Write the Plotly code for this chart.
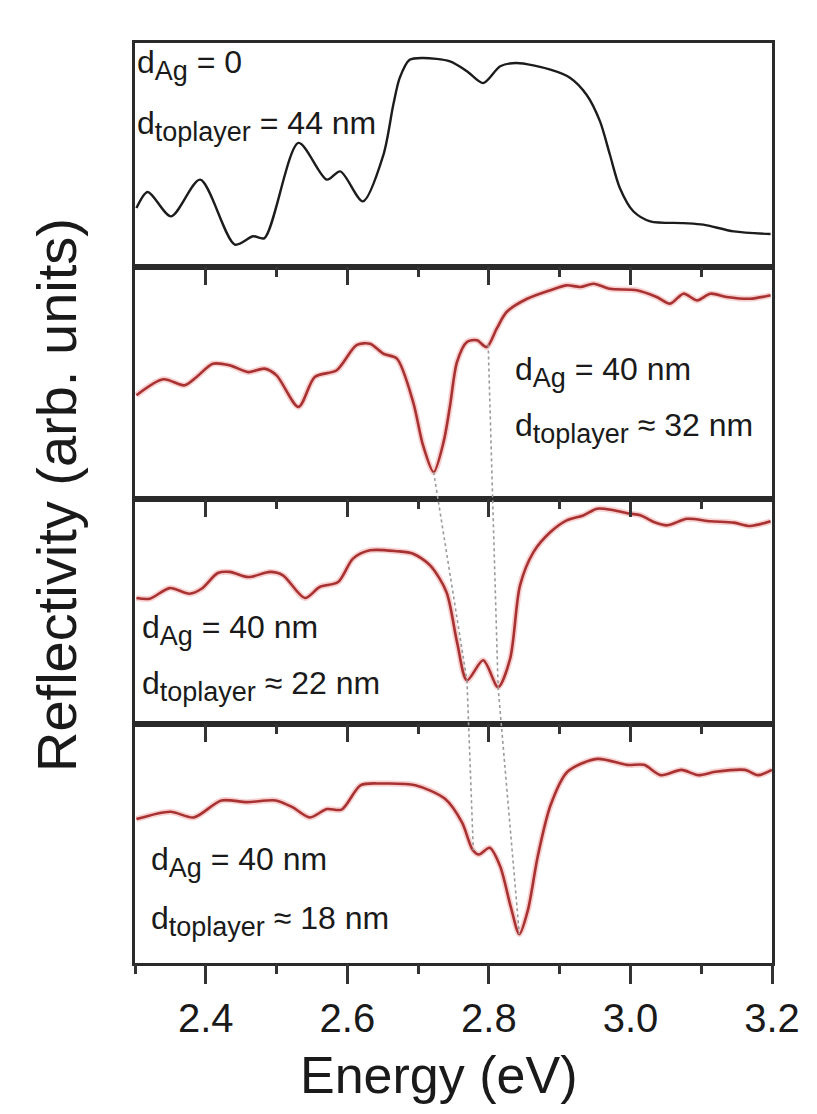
import numpy as np
import plotly.graph_objects as go
from plotly.subplots import make_subplots

# ---------------- data ----------------
# Panel 1: d_Ag = 0, d_toplayer = 44 nm  (black)
energy_p1 = [2.302, 2.318, 2.351, 2.392, 2.441, 2.467, 2.483, 2.531, 2.571, 2.590,
             2.622, 2.651, 2.665, 2.674, 2.688, 2.707, 2.745, 2.769, 2.792, 2.816,
             2.839, 2.887, 2.915, 2.938, 2.957, 2.971, 2.985, 3.004, 3.028, 3.075,
             3.103, 3.146, 3.198]
refl_p1 = [0.263, 0.335, 0.226, 0.390, 0.100, 0.137, 0.129, 0.554, 0.390, 0.427,
           0.293, 0.501, 0.725, 0.844, 0.925, 0.933, 0.918, 0.874, 0.821, 0.896,
           0.911, 0.881, 0.844, 0.769, 0.650, 0.501, 0.353, 0.249, 0.204, 0.196,
           0.189, 0.159, 0.147]

# Panel 2: d_Ag = 40 nm, d_toplayer ~ 32 nm
energy_p2 = [2.302, 2.340, 2.370, 2.387, 2.410, 2.434, 2.460, 2.483, 2.500, 2.531,
             2.554, 2.585, 2.613, 2.632, 2.651, 2.670, 2.693, 2.707, 2.722, 2.736,
             2.745, 2.755, 2.769, 2.783, 2.797, 2.811, 2.825, 2.854, 2.887, 2.910,
             2.929, 2.948, 2.971, 3.009, 3.037, 3.056, 3.075, 3.094, 3.113, 3.136,
             3.169, 3.198]
refl_p2 = [0.447, 0.516, 0.490, 0.526, 0.583, 0.576, 0.547, 0.562, 0.533, 0.397,
           0.526, 0.555, 0.663, 0.669, 0.626, 0.605, 0.418, 0.231, 0.116, 0.246,
           0.400, 0.591, 0.677, 0.684, 0.655, 0.734, 0.806, 0.863, 0.900, 0.921,
           0.914, 0.928, 0.906, 0.900, 0.871, 0.842, 0.885, 0.856, 0.885, 0.871,
           0.863, 0.878]

# Panel 3: d_Ag = 40 nm, d_toplayer ~ 22 nm
energy_p3 = [2.302, 2.321, 2.349, 2.377, 2.394, 2.417, 2.434, 2.460, 2.491, 2.509,
             2.540, 2.561, 2.587, 2.608, 2.632, 2.670, 2.693, 2.717, 2.740, 2.755,
             2.769, 2.792, 2.813, 2.830, 2.844, 2.863, 2.887, 2.910, 2.934, 2.953,
             2.976, 2.999, 3.014, 3.033, 3.052, 3.080, 3.113, 3.146, 3.169, 3.198]
refl_p3 = [0.560, 0.557, 0.604, 0.579, 0.601, 0.671, 0.676, 0.653, 0.676, 0.661,
           0.560, 0.609, 0.631, 0.735, 0.772, 0.768, 0.757, 0.705, 0.587, 0.364,
           0.194, 0.283, 0.164, 0.290, 0.616, 0.764, 0.853, 0.905, 0.928, 0.957,
           0.950, 0.935, 0.928, 0.898, 0.883, 0.912, 0.901, 0.895, 0.880, 0.901]

# Panel 4: d_Ag = 40 nm, d_toplayer ~ 18 nm
energy_p4 = [2.302, 2.350, 2.383, 2.422, 2.458, 2.499, 2.523, 2.547, 2.571, 2.592,
             2.619, 2.649, 2.696, 2.738, 2.762, 2.777, 2.786, 2.801, 2.816, 2.831,
             2.843, 2.855, 2.869, 2.887, 2.911, 2.953, 2.995, 3.019, 3.043, 3.072,
             3.096, 3.120, 3.162, 3.180, 3.200]
refl_p4 = [0.602, 0.633, 0.609, 0.680, 0.673, 0.680, 0.651, 0.609, 0.644, 0.642,
           0.744, 0.751, 0.744, 0.687, 0.588, 0.474, 0.454, 0.482, 0.404, 0.234,
           0.121, 0.220, 0.446, 0.659, 0.800, 0.854, 0.829, 0.829, 0.786, 0.808,
           0.786, 0.800, 0.808, 0.786, 0.808]

# mode positions followed by the dotted guide lines (panels 2, 3, 4)
mode_a_energy = [2.722, 2.769, 2.778]
mode_b_energy = [2.799, 2.813, 2.843]

SUB = '<sub><span style="font-size:27px">{}</span></sub>'
labels_ag = ["d" + SUB.format("Ag") + " = 0", "d" + SUB.format("Ag") + " = 40 nm",
             "d" + SUB.format("Ag") + " = 40 nm", "d" + SUB.format("Ag") + " = 40 nm"]
labels_top = ["d" + SUB.format("toplayer") + " = 44 nm", "d" + SUB.format("toplayer") + " ≈ 32 nm",
              "d" + SUB.format("toplayer") + " ≈ 22 nm", "d" + SUB.format("toplayer") + " ≈ 18 nm"]

x_range = [2.3, 3.2]
x_tick0 = 2.4
x_dtick = 0.2
x_minor_tick0 = 2.3
x_minor_dtick = 0.1

# ---------------- figure ----------------
FONT = "Liberation Sans, Arial, sans-serif"
W, H = 817, 1114
ML, MR, MT, MB = 135, 45, 43, 151
panel_px = [(43, 267), (267, 499), (499, 724), (724, 963)]
plot_h = H - MT - MB
domains = [((H - MB - b) / plot_h, (H - MB - t) / plot_h) for (t, b) in panel_px]

fig = make_subplots(rows=4, cols=1, vertical_spacing=0)

curves = [(energy_p1, refl_p1), (energy_p2, refl_p2),
          (energy_p3, refl_p3), (energy_p4, refl_p4)]
for i, (e, r) in enumerate(curves):
    row = i + 1
    if i == 0:
        fig.add_trace(go.Scatter(x=e, y=r, mode="lines",
                                 line=dict(color="#1c1c1c", width=2.4, shape="spline", smoothing=0.8),
                                 showlegend=False, hoverinfo="skip"), row=row, col=1)
    else:
        fig.add_trace(go.Scatter(x=e, y=r, mode="lines",
                                 line=dict(color="rgba(235,120,120,0.35)", width=6, shape="spline", smoothing=0.8),
                                 showlegend=False, hoverinfo="skip"), row=row, col=1)
        fig.add_trace(go.Scatter(x=e, y=r, mode="lines",
                                 line=dict(color="#a83232", width=2.6, shape="spline", smoothing=0.8),
                                 showlegend=False, hoverinfo="skip"), row=row, col=1)

axis_color = "#2a2a2a"
tick_color = "#333333"
MAJOR_LEN, MINOR_LEN, TICK_W = 18, 10, 3

for i in range(4):
    xa = "xaxis" if i == 0 else f"xaxis{i+1}"
    ya = "yaxis" if i == 0 else f"yaxis{i+1}"
    bottom = (i == 3)
    fig.layout[xa].update(
        range=x_range, showgrid=False, zeroline=False,
        showline=True, mirror=True, linecolor=axis_color, linewidth=2.5,
        tickmode="linear", tick0=x_tick0, dtick=x_dtick, tickformat=".1f",
        ticks="outside" if bottom else "", ticklen=MAJOR_LEN, tickwidth=TICK_W,
        tickcolor=tick_color,
        showticklabels=bottom,
        tickfont=dict(family=FONT, size=40, color="#1a1a1a"),
    )
    fig.layout[ya].update(
        domain=list(domains[i]), range=[0, 1], showgrid=False, zeroline=False,
        showline=True, mirror=True, linecolor=axis_color, linewidth=2.5,
        ticks="", showticklabels=False,
    )

# extra tick-only axes: top inside ticks on panels 2-4, minor bottom ticks on panel 4
tick_axes = []
for panel in (2, 3, 4):
    tick_axes.append((panel, "top", "inside", x_tick0, x_dtick, MAJOR_LEN))
    tick_axes.append((panel, "top", "inside", x_minor_tick0, x_minor_dtick, MINOR_LEN))
tick_axes.append((4, "bottom", "outside", x_minor_tick0, x_minor_dtick, MINOR_LEN))

for k, (panel, side, direction, t0, dt, ln) in enumerate(tick_axes):
    ax_id = 5 + k
    fig.layout[f"xaxis{ax_id}"] = dict(
        overlaying=f"x{panel}", anchor=f"y{panel}", side=side, range=x_range,
        showgrid=False, zeroline=False, showline=False, showticklabels=False,
        tickmode="linear", tick0=t0, dtick=dt, ticks=direction, ticklen=ln,
        tickwidth=TICK_W, tickcolor=tick_color,
    )
    fig.add_trace(go.Scatter(x=[None], y=[None], xaxis=f"x{ax_id}", yaxis=f"y{panel}",
                             mode="lines", showlegend=False, hoverinfo="skip"))

# dotted guide lines through the modes (panels 2-4)
def paper_y(panel, f):
    d0, d1 = domains[panel]
    return d0 + f * (d1 - d0)

for modes in (mode_a_energy, mode_b_energy):
    pts = []
    for k, e in enumerate(modes):
        panel = k + 1
        ee, rr = curves[panel]
        pts.append((e, paper_y(panel, float(np.interp(e, ee, rr)))))
    for (xa_, ya_), (xb_, yb_) in zip(pts[:-1], pts[1:]):
        fig.add_shape(type="line", xref="x", yref="paper", x0=xa_, y0=ya_, x1=xb_, y1=yb_,
                      line=dict(color="#9a9a9a", width=1.6, dash="dot"), layer="above")

# text labels
label_pos = [  # (x_paper, y_line1, y_line2)
    (0.0, 0.976, 0.910),
    (0.594, 0.6424, 0.5815),
    (0.008, 0.362, 0.301),
    (0.022, 0.1098, 0.0457),
]
for i in range(4):
    xp, y1, y2 = label_pos[i]
    for txt, yy in ((labels_ag[i], y1), (labels_top[i], y2)):
        fig.add_annotation(text=txt, xref="paper", yref="paper", x=xp, y=yy,
                           xanchor="left", yanchor="middle", showarrow=False,
                           font=dict(family=FONT, size=32, color="#1a1a1a"))

# axis titles
fig.add_annotation(text="Reflectivity (arb. units)", xref="paper", yref="paper",
                   x=(56 - ML) / (W - ML - MR), y=(H - MB - 495) / plot_h,
                   xanchor="center", yanchor="middle", textangle=-90, showarrow=False,
                   font=dict(family=FONT, size=56, color="#1a1a1a"))
fig.add_annotation(text="Energy (eV)", xref="paper", yref="paper",
                   x=(438 - ML) / (W - ML - MR), y=(H - MB - 1075) / plot_h,
                   xanchor="center", yanchor="middle", showarrow=False,
                   font=dict(family=FONT, size=52, color="#1a1a1a"))

fig.update_layout(width=W, height=H, margin=dict(l=ML, r=MR, t=MT, b=MB),
                  paper_bgcolor="white", plot_bgcolor="rgba(0,0,0,0)", showlegend=False)

fig.write_html("out.html")
